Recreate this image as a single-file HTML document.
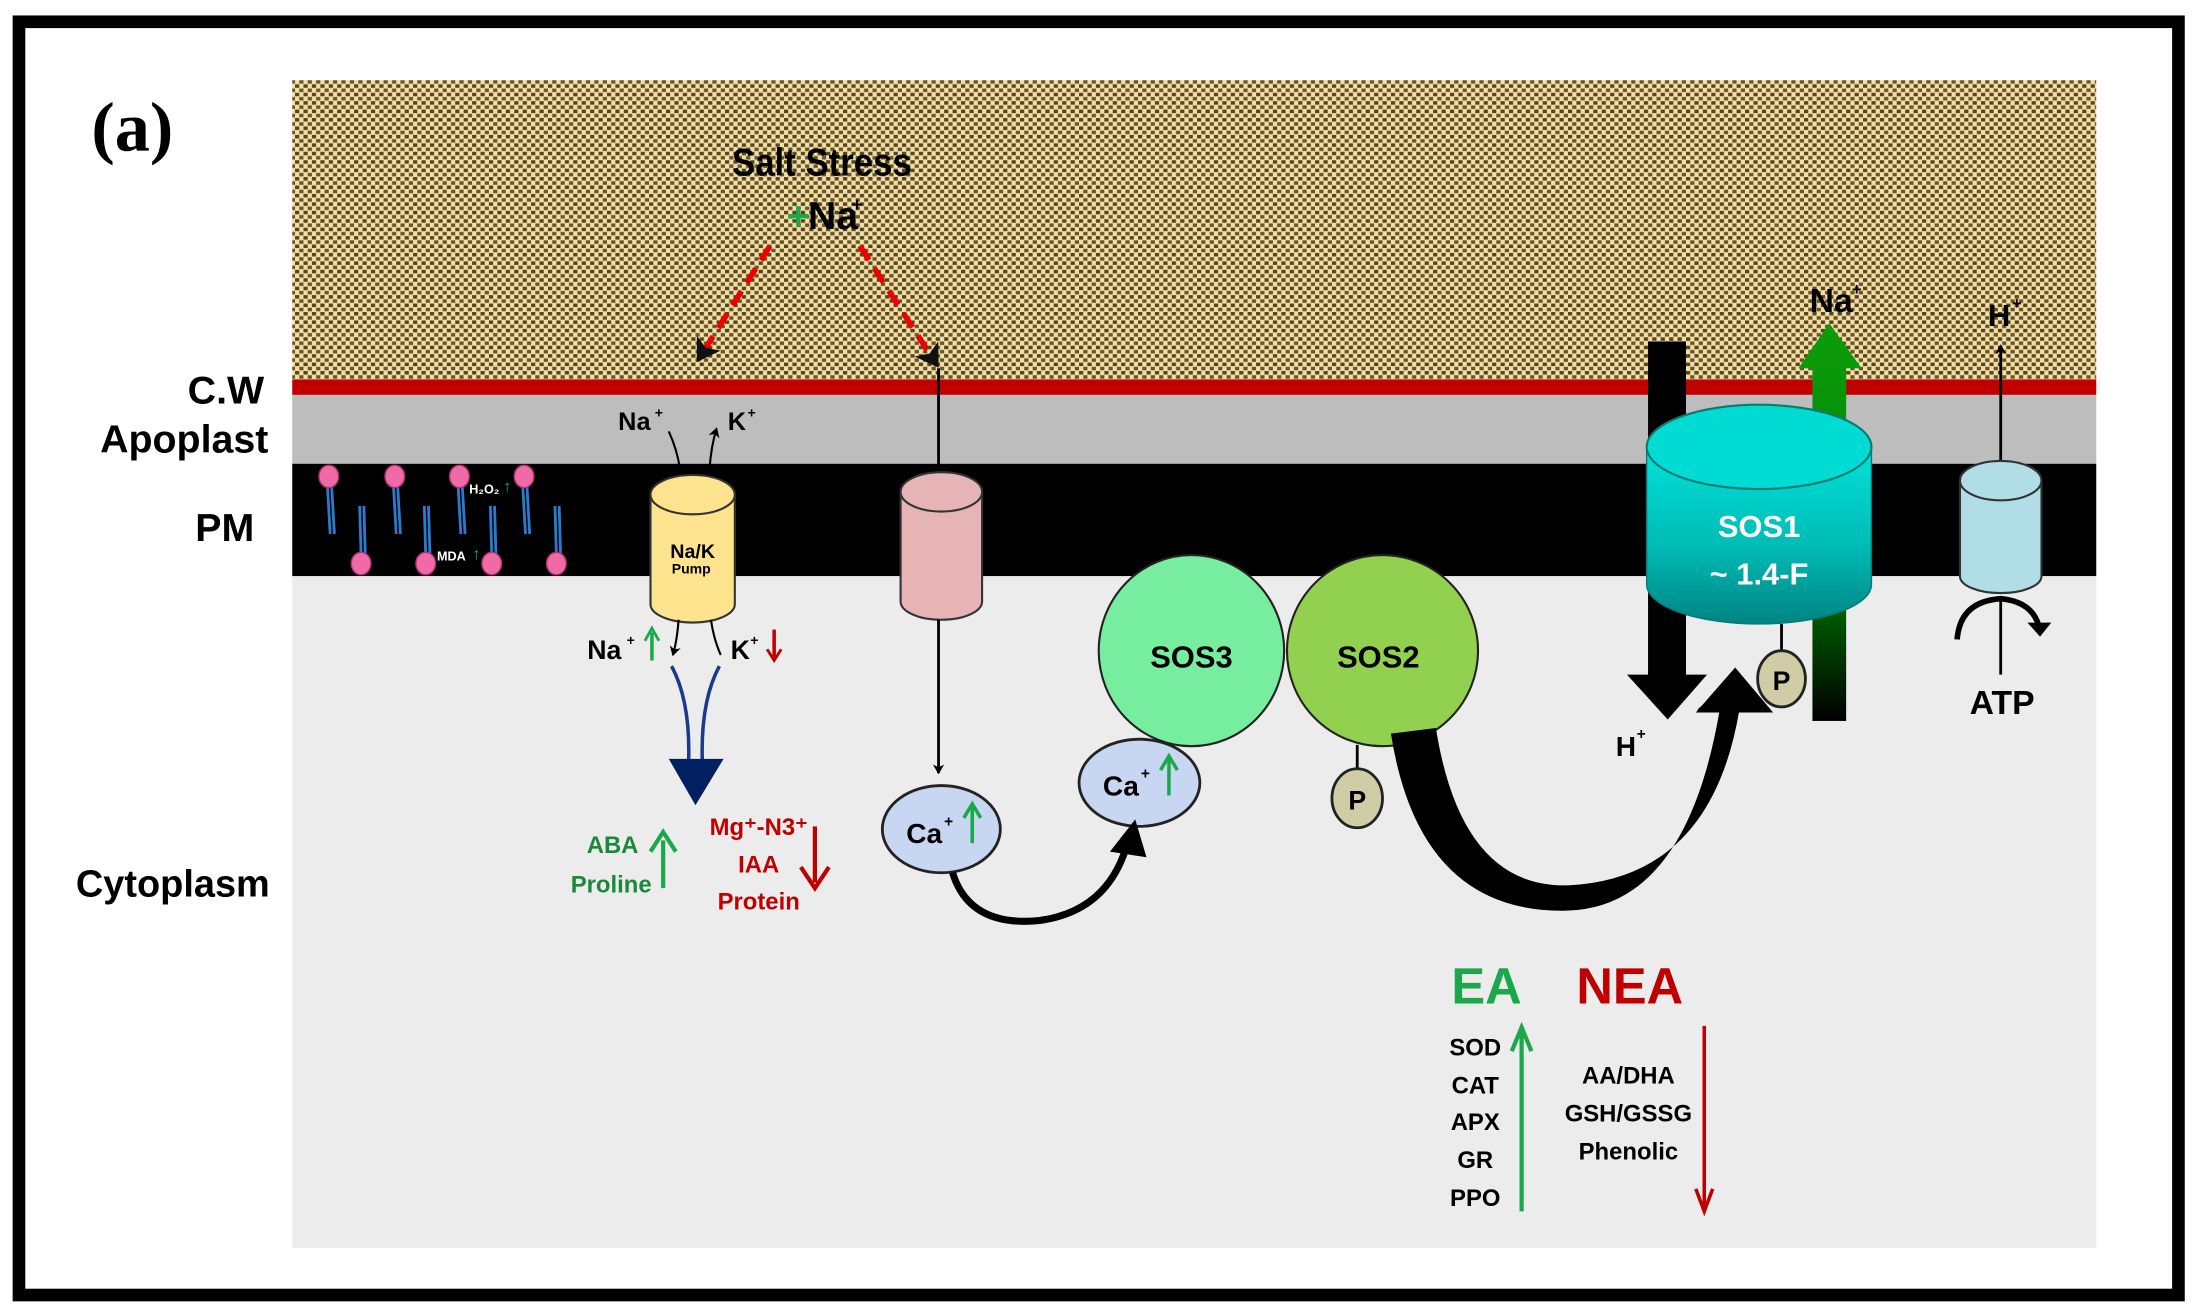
<!DOCTYPE html>
<html><head><meta charset="utf-8"><style>
html,body{margin:0;padding:0;background:#fff;}
svg{display:block;}
text{font-family:"Liberation Sans",sans-serif;font-weight:bold;}
</style></head><body>
<svg width="2196" height="1314" viewBox="0 0 1563 935" preserveAspectRatio="none" xmlns="http://www.w3.org/2000/svg">
<defs>
<pattern id="sand" width="6" height="6" patternUnits="userSpaceOnUse">
<rect width="6" height="6" fill="#f0dfae"/>
<rect x="0" y="0" width="3" height="2.5" fill="#5a4514"/>
<rect x="3" y="3" width="3" height="2.5" fill="#6b5420"/>
</pattern>
<linearGradient id="teal" x1="0" y1="0" x2="0" y2="1">
<stop offset="0" stop-color="#00e2da"/><stop offset="0.55" stop-color="#00bcb6"/><stop offset="1" stop-color="#008583"/>
</linearGradient>
<linearGradient id="gblk" x1="0" y1="0" x2="0" y2="1">
<stop offset="0" stop-color="#0a9a0a"/><stop offset="0.6" stop-color="#007a00"/><stop offset="1" stop-color="#000"/>
</linearGradient>
<marker id="ah" markerWidth="8" markerHeight="8" refX="6" refY="4" orient="auto" markerUnits="userSpaceOnUse"><path d="M0,0 L7,4 L0,8 L2,4z" fill="#000"/></marker>
<marker id="ahb" markerWidth="20" markerHeight="20" refX="14" refY="10" orient="auto" markerUnits="userSpaceOnUse"><path d="M0,0 L16,10 L0,20 L4,10z" fill="#111"/></marker>
</defs>
<rect x="0" y="0" width="1563" height="935" fill="#fff"/>
<rect x="13.5" y="15.5" width="1537" height="906" fill="none" stroke="#000" stroke-width="9"/>
<text x="65" y="107" font-size="50" style="font-family:'Liberation Serif',serif">(a)</text>

<rect x="208" y="57" width="1284" height="214" fill="url(#sand)"/>
<rect x="208" y="270" width="1284" height="11" fill="#c00000"/>
<rect x="208" y="281" width="1284" height="49" fill="#bdbdbd"/>
<rect x="208" y="330" width="1284" height="80" fill="#000"/>
<rect x="208" y="410" width="1284" height="478" fill="#ececec"/>

<text x="188" y="287" font-size="28" text-anchor="end">C.W</text>
<text x="191" y="322" font-size="28" text-anchor="end">Apoplast</text>
<text x="181" y="385" font-size="28" text-anchor="end">PM</text>
<text x="192" y="638" font-size="27" text-anchor="end">Cytoplasm</text>

<text x="585" y="125" font-size="28" text-anchor="middle" textLength="128" lengthAdjust="spacingAndGlyphs">Salt Stress</text>
<text x="560" y="163" font-size="28" fill="#1aa84a">+</text>
<text x="575" y="163" font-size="28">Na</text><text x="606" y="150" font-size="14">+</text>

<line x1="548" y1="175" x2="497" y2="256" stroke="#e00" stroke-width="4" stroke-dasharray="12,7" marker-end="url(#ahb)"/>
<line x1="612" y1="175" x2="667" y2="260" stroke="#e00" stroke-width="4" stroke-dasharray="12,7" marker-end="url(#ahb)"/>

<g stroke="#2a7ad0" stroke-width="2" fill="none">
<path d="M233,345 l2,35 M236,345 l2,35"/><path d="M280,345 l2,35 M283,345 l2,35"/>
<path d="M326,345 l2,35 M329,345 l2,35"/><path d="M372,345 l2,35 M375,345 l2,35"/>
<path d="M256,360 l1,35 M259,360 l1,35"/><path d="M302,360 l1,35 M305,360 l1,35"/>
<path d="M349,360 l1,35 M352,360 l1,35"/><path d="M395,360 l1,35 M398,360 l1,35"/>
</g>
<g fill="#f06aa8" stroke="#b03070" stroke-width="1">
<ellipse cx="234" cy="339" rx="7" ry="8"/><ellipse cx="281" cy="339" rx="7" ry="8"/><ellipse cx="327" cy="339" rx="7" ry="8"/><ellipse cx="373" cy="339" rx="7" ry="8"/>
<ellipse cx="257" cy="401" rx="7" ry="8"/><ellipse cx="303" cy="401" rx="7" ry="8"/><ellipse cx="350" cy="401" rx="7" ry="8"/><ellipse cx="396" cy="401" rx="7" ry="8"/>
</g>
<text x="334" y="351" font-size="9" fill="#fff">H₂O₂</text><text x="358" y="350" font-size="12" fill="#1aa84a">↑</text>
<text x="311" y="399" font-size="9" fill="#fff">MDA</text><text x="336" y="398" font-size="12" fill="#1aa84a">↑</text>

<path d="M463,352 v78 a30,13 0 0 0 60,0 v-78" fill="#fde38d" stroke="#333" stroke-width="1.5"/>
<ellipse cx="493" cy="352" rx="30" ry="14" fill="#fde38d" stroke="#333" stroke-width="1.5"/>
<text x="493" y="397" font-size="14" text-anchor="middle">Na/K</text>
<text x="492" y="408" font-size="10" text-anchor="middle">Pump</text>
<text x="440" y="306" font-size="18" font-weight="normal">Na</text><text x="466" y="297" font-size="10">+</text>
<text x="518" y="306" font-size="18" font-weight="normal">K</text><text x="532" y="297" font-size="10">+</text>
<path d="M476,307 Q482,320 484,334" stroke="#000" stroke-width="1.5" fill="none"/>
<path d="M505,334 Q506,318 510,305" stroke="#000" stroke-width="1.5" fill="none" marker-end="url(#ah)"/>
<path d="M483,441 Q482,455 479,466" stroke="#000" stroke-width="1.5" fill="none" marker-end="url(#ah)"/>
<path d="M506,441 Q508,455 513,466" stroke="#000" stroke-width="1.5" fill="none"/>
<text x="418" y="469" font-size="19" font-weight="normal">Na</text><text x="446" y="459" font-size="10">+</text>
<line x1="464" y1="470" x2="464" y2="450" stroke="#1aa84a" stroke-width="2.5"/><path d="M459,456 L464,447 L469,456" stroke="#1aa84a" stroke-width="2" fill="none"/>
<text x="520" y="469" font-size="19" font-weight="normal">K</text><text x="534" y="459" font-size="10">+</text>
<line x1="551" y1="448" x2="551" y2="468" stroke="#c00000" stroke-width="2.5"/><path d="M546,462 L551,470 L556,462" stroke="#c00000" stroke-width="2" fill="none"/>
<path d="M478,474 Q492,500 490,545 M512,474 Q498,500 500,545" stroke="#1a3a8a" stroke-width="2.5" fill="none"/>
<path d="M476,540 L515,540 L495,573z" fill="#002060"/>
<text x="436" y="607" font-size="17" fill="#1a8a3a" text-anchor="middle">ABA</text>
<text x="435" y="635" font-size="17" fill="#1a8a3a" text-anchor="middle">Proline</text>
<line x1="472" y1="632" x2="472" y2="598" stroke="#1aa84a" stroke-width="3"/><path d="M463,606 L472,592 L481,606" stroke="#1aa84a" stroke-width="3" fill="none"/>
<text x="540" y="594" font-size="17" fill="#c00000" text-anchor="middle">Mg⁺-N3⁺</text>
<text x="540" y="621" font-size="17" fill="#c00000" text-anchor="middle">IAA</text>
<text x="540" y="647" font-size="17" fill="#c00000" text-anchor="middle">Protein</text>
<line x1="580" y1="588" x2="580" y2="628" stroke="#c00000" stroke-width="3"/><path d="M570,617 L580,632 L590,617" stroke="#c00000" stroke-width="3" fill="none"/>

<line x1="668" y1="262" x2="668" y2="335" stroke="#000" stroke-width="2"/>
<path d="M641,350 v78 a29,13 0 0 0 58,0 v-78" fill="#e6b4b4" stroke="#333" stroke-width="1.5"/>
<ellipse cx="670" cy="350" rx="29" ry="14" fill="#e6b4b4" stroke="#333" stroke-width="1.5"/>
<line x1="668" y1="441" x2="668" y2="550" stroke="#000" stroke-width="2" marker-end="url(#ah)"/>
<ellipse cx="670" cy="590" rx="42" ry="31" fill="#c7d6f1" stroke="#222" stroke-width="2"/>
<text x="645" y="600" font-size="20">Ca</text><text x="672" y="588" font-size="11">+</text>
<line x1="692" y1="600" x2="692" y2="574" stroke="#1aa84a" stroke-width="2.5"/><path d="M686,582 L692,572 L698,582" stroke="#1aa84a" stroke-width="2.5" fill="none"/>
<ellipse cx="811" cy="557" rx="43" ry="31" fill="#c7d6f1" stroke="#222" stroke-width="2"/>
<text x="785" y="566" font-size="20">Ca</text><text x="812" y="554" font-size="11">+</text>
<line x1="832" y1="566" x2="832" y2="540" stroke="#1aa84a" stroke-width="2.5"/><path d="M826,548 L832,538 L838,548" stroke="#1aa84a" stroke-width="2.5" fill="none"/>
<path d="M678,621 Q690,660 740,655 Q790,648 803,598" stroke="#000" stroke-width="5" fill="none"/>
<path d="M790,606 L808,583 L816,610z" fill="#000"/>

<ellipse cx="848" cy="463" rx="66" ry="68" fill="#77eda0" stroke="#222" stroke-width="1.5"/>
<ellipse cx="984" cy="463" rx="68" ry="68" fill="#92d050" stroke="#222" stroke-width="1.5"/>
<text x="848" y="475" font-size="22" text-anchor="middle">SOS3</text>
<text x="981" y="475" font-size="22" text-anchor="middle">SOS2</text>
<line x1="966" y1="530" x2="966" y2="548" stroke="#000" stroke-width="2"/>
<ellipse cx="966" cy="568" rx="18" ry="21" fill="#d0cca6" stroke="#222" stroke-width="2"/>
<text x="966" y="576" font-size="19" text-anchor="middle">P</text>

<path d="M990,522 Q1010,650 1115,648 Q1200,646 1224,505 L1258,505 L1232,484 L1208,505 L1238,505 Q1218,625 1116,630 Q1040,632 1022,518 Z" fill="#000"/>
<path d="M1207,507 L1235,475 L1262,507 Z" fill="#000"/>
<rect x="1173" y="243" width="27" height="240" fill="#000"/>
<path d="M1158,480 L1215,480 L1187,512z" fill="#000"/>
<text x="1150" y="538" font-size="20" font-weight="normal">H</text><text x="1165" y="526" font-size="11">+</text>

<rect x="1290" y="255" width="24" height="258" fill="url(#gblk)"/>
<path d="M1280,262 L1302,230 L1325,262z" fill="#0a9a0a"/>
<text x="1288" y="222" font-size="24">Na</text><text x="1318" y="210" font-size="12">+</text>

<path d="M1172,318 v98 a80,28 0 0 0 160,0 v-98" fill="url(#teal)" stroke="#0a7a70" stroke-width="1"/>
<ellipse cx="1252" cy="318" rx="80" ry="30" fill="#00dcd4" stroke="#0a7a70" stroke-width="1.5"/>
<text x="1252" y="382" font-size="22" fill="#fff" text-anchor="middle">SOS1</text>
<text x="1252" y="416" font-size="22" fill="#fff" text-anchor="middle">~ 1.4-F</text>
<line x1="1268" y1="444" x2="1268" y2="464" stroke="#000" stroke-width="2"/>
<ellipse cx="1268" cy="483" rx="17" ry="20" fill="#d0cca6" stroke="#222" stroke-width="2"/>
<text x="1268" y="491" font-size="19" text-anchor="middle">P</text>

<line x1="1424" y1="328" x2="1424" y2="246" stroke="#000" stroke-width="2" marker-end="url(#ah)"/>
<text x="1415" y="232" font-size="22">H</text><text x="1432" y="220" font-size="12">+</text>
<path d="M1395,342 v68 a29,12 0 0 0 58,0 v-68" fill="#b0dde6" stroke="#333" stroke-width="1.5"/>
<ellipse cx="1424" cy="342" rx="29" ry="14" fill="#b0dde6" stroke="#333" stroke-width="1.5"/>
<line x1="1424" y1="425" x2="1424" y2="480" stroke="#000" stroke-width="2"/>
<path d="M1393,455 Q1395,428 1424,426 Q1446,428 1451,445" stroke="#000" stroke-width="4" fill="none"/>
<path d="M1443,443 L1460,443 L1452,453z" fill="#000"/>
<text x="1425" y="508" font-size="24" text-anchor="middle">ATP</text>

<text x="1058" y="714" font-size="36" fill="#1aa84a" text-anchor="middle">EA</text>
<text x="1160" y="714" font-size="36" fill="#c00000" text-anchor="middle">NEA</text>
<g font-size="17" text-anchor="middle" font-weight="normal">
<text x="1050" y="751">SOD</text><text x="1050" y="778">CAT</text><text x="1050" y="804">APX</text><text x="1050" y="831">GR</text><text x="1050" y="858">PPO</text>
<text x="1159" y="771">AA/DHA</text><text x="1159" y="798">GSH/GSSG</text><text x="1159" y="825">Phenolic</text>
</g>
<line x1="1083" y1="862" x2="1083" y2="735" stroke="#1aa84a" stroke-width="3"/><path d="M1076,748 L1083,731 L1090,748" stroke="#1aa84a" stroke-width="3" fill="none"/>
<line x1="1213" y1="730" x2="1213" y2="858" stroke="#c00000" stroke-width="2.5"/><path d="M1207,846 L1213,862 L1219,846" stroke="#c00000" stroke-width="2.5" fill="none"/>
</svg>
</body></html>
